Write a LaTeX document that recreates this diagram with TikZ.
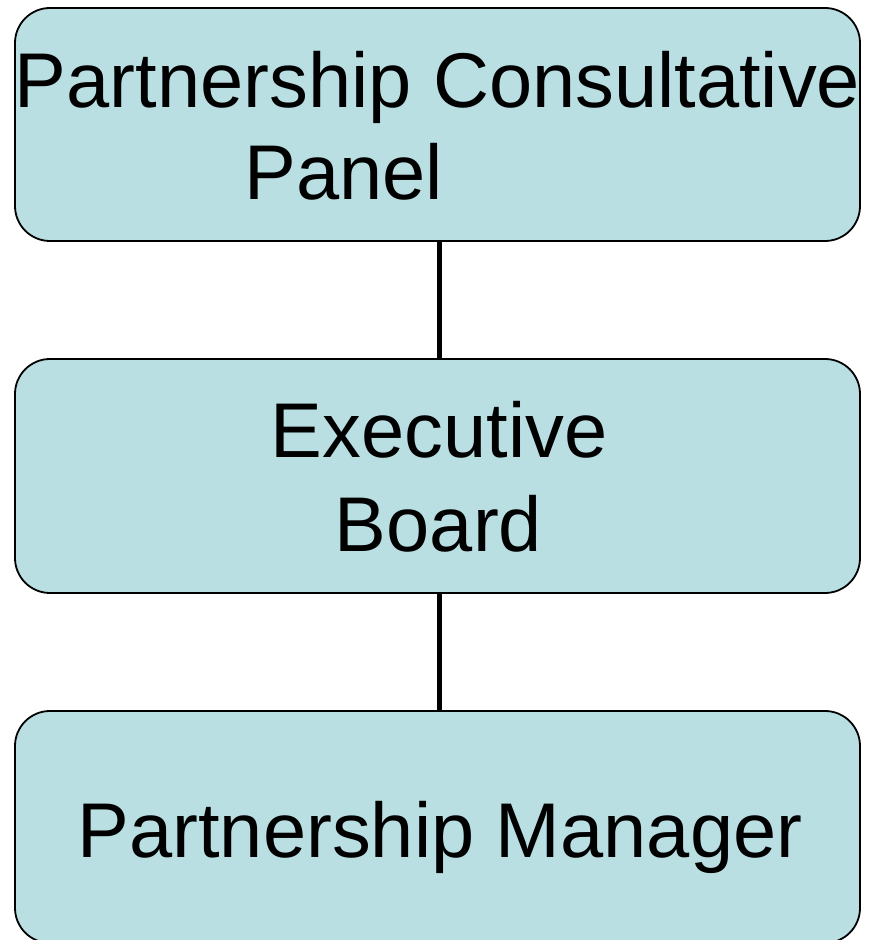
\documentclass[tikz,border=0pt]{standalone}
\usepackage{fontspec}
\setmainfont{Liberation Sans}
\begin{document}
\begin{tikzpicture}[x=1pt,y=1pt,
  box/.style={draw=black,line width=1.8pt,fill=boxfill,rounded corners=35pt,inner sep=0pt},
  lbl/.style={anchor=base,inner sep=0pt,font=\fontsize{77.6}{92}\selectfont},
  conn/.style={line width=5pt}]
\definecolor{boxfill}{HTML}{B9DFE3}
\useasboundingbox (0,0) rectangle (872,940);
\begin{scope}
\clip (0,0) rectangle (872,940);
\draw[box] (15,699) rectangle (860,932);
\draw[box] (15,347) rectangle (860,581);
\draw[box] (15,-3) rectangle (860,229);
\coordinate (c1t) at (439,699);
\coordinate (c1b) at (439,581);
\coordinate (c2t) at (439,347);
\coordinate (c2b) at (439,229);
\draw[conn] (c1t) -- (c1b);
\draw[conn] (c2t) -- (c2b);
\end{scope}
\node[lbl] (t1) at (437.5,832) {Partnership Consultative};
\node[lbl] (t2) at (344,740) {Panel};
\node[lbl] (t3) at (439,482) {Executive};
\node[lbl] (t4) at (438.5,388) {Board};
\node[lbl] (t5) at (440,82) {Partnership Manager};
\end{tikzpicture}
\end{document}
